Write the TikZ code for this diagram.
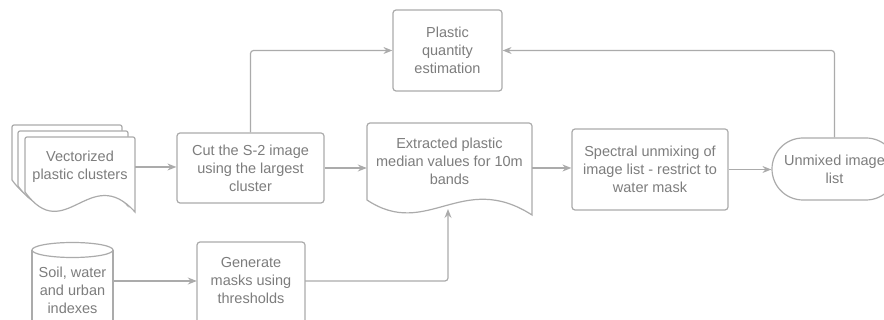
\documentclass[tikz,border=0pt]{standalone}
\usepackage{fontspec}
\setmainfont{Liberation Sans}
\usetikzlibrary{arrows.meta,shapes.misc}
\definecolor{ln}{HTML}{ABABAB}
\definecolor{tx}{HTML}{7D7D7D}
\begin{document}
\begin{tikzpicture}[x=1pt,y=-1pt,
  every node/.style={font=\fontsize{14.5}{18}\selectfont, text=tx, align=center, inner sep=0pt},
  boxline/.style={draw=ln, line width=1.2pt, fill=white},
  procbox/.style={boxline, rounded corners=3pt},
  arr/.style={draw=ln, line width=1.2pt, rounded corners=3pt, -{Stealth[length=9pt,width=7pt,inset=3pt]}},
  docshape/.pic={
    \draw[boxline] (0,55) [rounded corners=2pt] -- (0,0) -- (110,0) [sharp corners] -- (110,75)
      .. controls (65,25) and (40,110) .. (0,55) -- cycle;
  }]
\useasboundingbox (0,0) rectangle (884,320);

% multi-document
\pic at (12,125) {docshape};
\pic at (18,131) {docshape};
\pic at (25,137) {docshape};
\node (vec) [minimum width=110pt, minimum height=60pt] at (80,167) {Vectorized\\plastic clusters};

% cut box
\node (cut) [procbox, minimum width=147pt, minimum height=70pt] at (250.5,168) {Cut the S-2 image\\using the largest\\cluster};

% plastic quantity
\node (plast) [procbox, minimum width=109pt, minimum height=81pt] at (447.5,50.5) {Plastic\\quantity\\estimation};

% extracted document
\draw[boxline] (367,200) [rounded corners=3pt] -- (367,123) -- (532,123) [sharp corners] -- (532,215)
  .. controls (462,170) and (427,240) .. (367,200) -- cycle;
\node (ext) [minimum width=165pt, minimum height=90pt] at (449.5,168) {};
\node (exttext) at (449.5,161) {Extracted plastic\\median values for 10m\\bands};
\coordinate (extb) at (448,209);

% spectral
\node (spec) [procbox, minimum width=156pt, minimum height=81pt] at (650,169.5) {Spectral unmixing of\\image list - restrict to\\water mask};

% unmixed terminal
\node (unm) [boxline, rounded rectangle, minimum width=125pt, minimum height=62pt] at (834.5,169) {Unmixed image\\list};

% soil cylinder
\fill[white] (32,250) rectangle (113,335);
\draw[draw=ln, line width=1.2pt] (32,250) -- (32,335) (113,250) -- (113,335);
\draw[boxline] (72.5,250) ellipse [x radius=40.5, y radius=7.5];
\node (soil) [minimum width=81pt, minimum height=78pt] at (72.5,281) {};
\node (soiltext) at (72.5,290) {Soil, water\\and urban\\indexes};

% generate box
\draw[procbox] (197,242) rectangle (305,340);
\node (gen) [minimum width=108pt, minimum height=78pt] at (251,281) {Generate\\masks using\\thresholds};

% connectors
\draw[arr] (vec.east) -- (vec.east -| cut.west);
\draw[arr] (cut.east) -- (ext.west);
\draw[arr] (ext.east) -- (ext.east -| spec.west);
\draw[arr] (spec.east) -- (spec.east -| unm.west);
\draw[arr] (cut.north) |- (plast.west);
\draw[arr] (unm.north) |- (plast.east);
\draw[arr] (soil.east) -- (gen.west);
\draw[arr] (gen.east) -| (extb);
\end{tikzpicture}
\end{document}
